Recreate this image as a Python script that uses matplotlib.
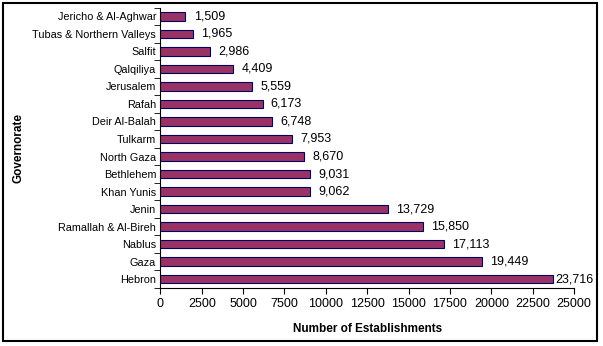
import matplotlib
matplotlib.use("Agg")
import matplotlib.pyplot as plt
import numpy as np
from matplotlib.patches import Rectangle

plt.rcParams['font.family'] = ['Liberation Sans', 'DejaVu Sans']

governorates = ['Hebron', 'Gaza', 'Nablus', 'Ramallah & Al-Bireh', 'Jenin',
                'Khan Yunis', 'Bethlehem', 'North Gaza', 'Tulkarm',
                'Deir Al-Balah', 'Rafah', 'Jerusalem', 'Qalqiliya', 'Salfit',
                'Tubas & Northern Valleys', 'Jericho & Al-Aghwar']
establishments = [23716, 19449, 17113, 15850, 13729, 9062, 9031, 8670, 7953,
                  6748, 6173, 5559, 4409, 2986, 1965, 1509]
xticks = [0, 2500, 5000, 7500, 10000, 12500, 15000, 17500, 20000, 22500, 25000]

fig = plt.figure(figsize=(6.03, 3.46), dpi=100)
ax = fig.add_axes([0.266, 0.168, 0.686, 0.81])

y = np.arange(len(governorates))
ax.barh(y, establishments, height=0.48, color='#993366',
        edgecolor='#000060', linewidth=0.8)

for yi, v in zip(y, establishments):
    # the longest label is squeezed against its bar, as in the original
    off = 1.5 if v > 23000 else 6
    ax.annotate(f'{v:,}', (v, yi), xytext=(off, 0), textcoords='offset points',
                va='center', ha='left', fontsize=9)

ax.set_ylim(-0.5, len(governorates) - 0.5)
ax.set_xlim(0, 25000)
ax.set_yticks(y)
ax.set_yticklabels(governorates, fontsize=7.8)
ax.set_yticks(np.arange(-0.5, len(governorates), 1), minor=True)
ax.tick_params(axis='y', which='major', length=0, pad=3)
ax.tick_params(axis='y', which='minor', length=4, direction='out')
ax.set_xticks(xticks)
ax.set_xticklabels([str(t) for t in xticks], fontsize=9)
ax.tick_params(axis='x', length=4, direction='out')

ax.spines['top'].set_visible(False)
ax.spines['right'].set_visible(False)

ax.set_xlabel('Number of Establishments', fontsize=8.5, fontweight='bold', labelpad=9)
ax.set_ylabel('Governorate', fontsize=8.5, fontweight='bold', labelpad=6)

fig.patches.append(Rectangle((3 / 603, 5 / 346), 594 / 603, 338 / 346,
                             transform=fig.transFigure, fill=False,
                             edgecolor='black', linewidth=1.5))

fig.savefig('out.png', dpi=100)
